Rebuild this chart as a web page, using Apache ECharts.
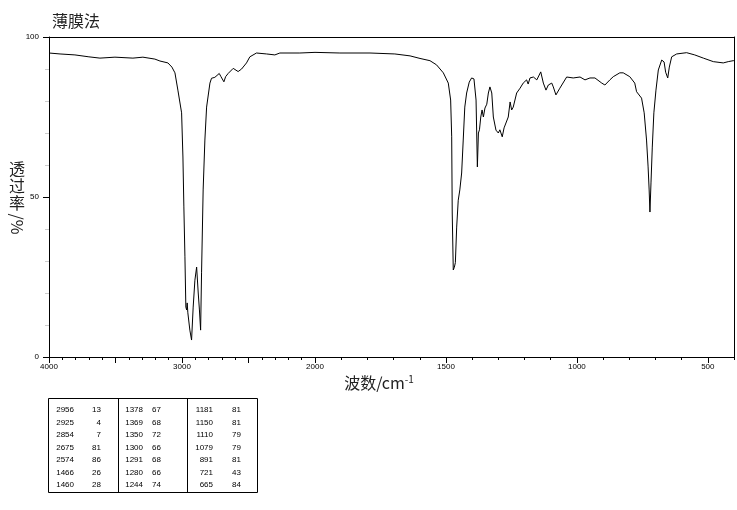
<!DOCTYPE html>
<html><head><meta charset="utf-8">
<script src="https://cdn.jsdelivr.net/npm/echarts@6/dist/echarts.min.js"></script>
<style>html,body{margin:0;padding:0;background:#fff}#c{width:737px;height:510px}</style>
</head><body><div id="c"></div>
<script>
const titleText = '薄膜法';
const yNameMain = '透\n过\n率';
const yNameUnit = '/%';
const xNameMain = '波数/cm';
const xNameSup = '-1';

// spectrum (wavenumber cm-1, transmittance %)
const wavenumber = [4000,3917,3805,3700,3617,3504,3369,3294,3204,3166,3106,3076,3053,3031,3003,2993,2986,2978,2971,2965,2961,2956,2941,2928,2925,2916,2903,2890,2878,2869,2860,2856,2853,2841,2828,2815,2790,2778,2753,2720,2707,2698,2685,2672,2653,2615,2578,2552,2515,2490,2440,2364,2302,2264,2114,2000,1905,1790,1695,1637,1599,1561,1536,1510,1491,1482,1478,1476,1472,1468,1464,1459,1453,1447,1440,1434,1428,1421,1411,1402,1393,1385,1380,1376,1372,1367,1362,1357,1351,1344,1338,1332,1325,1319,1309,1300,1294,1285,1278,1271,1262,1255,1249,1243,1230,1217,1205,1192,1186,1179,1166,1153,1138,1128,1118,1109,1096,1090,1080,1065,1039,1014,988,969,950,931,905,893,874,861,836,823,798,779,772,753,743,734,728,724,721,717,712,706,698,689,676,667,661,653,647,638,619,581,550,517,479,441,422,403,400];
const transmittance = [95.0,94.7,94.4,93.8,93.4,93.7,93.4,93.7,93.1,92.5,91.9,90.6,88.8,83.4,76.3,62.5,46.9,31.3,15.6,14.7,16.9,13.8,8.4,5.3,5.0,15.6,24.0,28.1,20.0,14.7,8.4,7.8,26.3,52.2,67.8,78.1,85.6,87.1,87.4,88.6,87.6,88.1,86.0,87.6,88.6,90.2,89.2,90.0,91.9,93.8,95.0,94.7,94.4,95.0,95.0,95.2,95.0,95.0,94.7,94.1,93.3,92.6,91.3,88.8,85.6,80.3,68.8,45.0,27.2,28.0,29.5,40.6,49.0,52.2,57.5,67.8,78.1,82.5,85.9,87.2,86.9,80.3,59.4,70.0,71.0,75.0,77.2,75.0,77.8,79.0,82.5,84.4,82.5,75.0,70.9,70.0,71.0,68.8,71.6,72.2,75.0,79.7,77.2,78.1,82.5,84.0,85.6,86.6,85.3,87.2,87.5,86.6,89.1,85.6,83.4,85.0,85.6,84.4,81.9,84.0,87.5,87.2,87.5,86.6,87.2,87.2,85.6,85.0,86.6,87.6,88.8,88.8,87.6,85.6,82.9,80.9,76.3,67.8,59.4,52.2,45.3,54.4,65.6,76.3,83.4,89.7,92.8,92.2,89.0,87.2,90.6,93.8,94.7,95.1,94.4,93.4,92.3,91.9,92.3,92.6,92.6];

// axis tick labels
const xLabelsHigh = [4000, 3000];
const xLabelsLow = [2000, 1500, 1000, 500];
const xMajorHigh = [2000, 2500, 3000, 3500, 4000];
const xMajorLow = [500, 1000, 1500, 2000];
const yLabels = [0, 50, 100];

// peak table
const peakWavenumber = [2956,2925,2854,2675,2574,1466,1460,1378,1369,1350,1300,1291,1280,1244,1181,1150,1110,1079,891,721,665];
const peakTransmittance = [13,4,7,81,86,26,28,67,68,72,66,68,66,74,81,81,79,79,81,43,84];

const hi = [], lo = [];
wavenumber.forEach((w, i) => {
  if (w >= 2000) hi.push([w, transmittance[i]]);
  if (w <= 2000) lo.push([w, transmittance[i]]);
});

const plain = v => String(v);
const labelFont = { fontFamily: 'Liberation Sans', fontSize: 8, color: '#000', formatter: plain };
const lineStyle = { color: '#000', width: 1 };

const G0 = { left: 49, top: 37, width: 266, height: 320 };
const G1 = { left: 315, top: 37, width: 419, height: 320 };

// table graphics
const tbl = { x: 48, y: 398, w: 209, h: 94, div: [118, 187], rowY0: 410, rowDy: 12.5,
  wnRight: [74, 143, 213], tRight: [101, 161, 241] };
const graphics = [];
graphics.push({ type: 'text', x: 52, y: 21, style: { text: titleText, font: '16px "Noto Sans CJK SC"', fill: '#222', textAlign: 'left', textVerticalAlign: 'middle' } });
graphics.push({ type: 'text', x: 17, y: 186, style: { text: yNameMain, font: '16px "Noto Sans CJK SC"', lineHeight: 17, fill: '#222', textAlign: 'center', textVerticalAlign: 'middle' } });
graphics.push({ type: 'text', x: 17, y: 224, rotation: -Math.PI / 2, style: { text: yNameUnit, font: '16px "Noto Sans CJK SC"', fill: '#222', textAlign: 'center', textVerticalAlign: 'middle' } });
graphics.push({ type: 'text', x: 379, y: 383, style: { text: '{a|' + xNameMain + '}{b|' + xNameSup + '}', textAlign: 'center', textVerticalAlign: 'middle',
  rich: { a: { font: '16px "Noto Sans CJK SC"', fill: '#222', lineHeight: 18 }, b: { font: '10px "Noto Sans CJK SC"', fill: '#222', verticalAlign: 'top', lineHeight: 18 } } } });
graphics.push({ type: 'rect', shape: { x: tbl.x + 0.5, y: tbl.y + 0.5, width: tbl.w, height: tbl.h }, style: { fill: 'none', stroke: '#000', lineWidth: 1 } });
tbl.div.forEach(dx => graphics.push({ type: 'line', shape: { x1: dx + 0.5, y1: tbl.y, x2: dx + 0.5, y2: tbl.y + tbl.h }, style: { stroke: '#000', lineWidth: 1 } }));
peakWavenumber.forEach((w, i) => {
  const c = Math.floor(i / 7), r = i % 7;
  const y = tbl.rowY0 + r * tbl.rowDy;
  graphics.push({ type: 'text', x: tbl.wnRight[c], y: y, style: { text: String(w), font: '8px "Liberation Sans"', fill: '#000', textAlign: 'right', textVerticalAlign: 'middle' } });
  graphics.push({ type: 'text', x: tbl.tRight[c], y: y, style: { text: String(peakTransmittance[i]), font: '8px "Liberation Sans"', fill: '#000', textAlign: 'right', textVerticalAlign: 'middle' } });
});

const chart = echarts.init(document.getElementById('c'), null, { renderer: 'canvas' });
chart.setOption({
  animation: false,
  backgroundColor: '#fff',
  grid: [G0, G1],
  xAxis: [
    { gridIndex: 0, type: 'value', position: 'bottom', min: 2000, max: 4000, interval: 100, inverse: true,
      axisLine: { show: true, lineStyle }, axisTick: { show: true, length: 3, lineStyle },
      axisLabel: Object.assign({ margin: 6, showMinLabel: true, showMaxLabel: true, customValues: xLabelsHigh }, labelFont),
      splitLine: { show: false } },
    { gridIndex: 1, type: 'value', position: 'bottom', min: 400, max: 2000, interval: 100, inverse: true,
      axisLine: { show: true, lineStyle }, axisTick: { show: true, length: 3, lineStyle },
      axisLabel: Object.assign({ margin: 6, showMinLabel: true, showMaxLabel: true, customValues: xLabelsLow }, labelFont),
      splitLine: { show: false } },
    { gridIndex: 0, type: 'value', position: 'top', min: 2000, max: 4000, inverse: true,
      axisLine: { show: true, lineStyle }, axisTick: { show: false }, axisLabel: { show: false }, splitLine: { show: false } },
    { gridIndex: 1, type: 'value', position: 'top', min: 400, max: 2000, inverse: true,
      axisLine: { show: true, lineStyle }, axisTick: { show: false }, axisLabel: { show: false }, splitLine: { show: false } },
    { gridIndex: 0, type: 'value', position: 'bottom', min: 2000, max: 4000, interval: 500, inverse: true,
      axisLine: { show: false }, axisTick: { show: true, length: 6, lineStyle, customValues: xMajorHigh }, axisLabel: { show: false }, splitLine: { show: false } },
    { gridIndex: 1, type: 'value', position: 'bottom', min: 400, max: 2000, interval: 100, inverse: true,
      axisLine: { show: false }, axisTick: { show: true, length: 6, lineStyle, customValues: xMajorLow }, axisLabel: { show: false }, splitLine: { show: false } }
  ],
  yAxis: [
    { gridIndex: 0, type: 'value', position: 'left', min: 0, max: 100, interval: 50,
      axisLine: { show: true, lineStyle }, axisTick: { show: true, length: 6, lineStyle },
      minorTick: { show: true, splitNumber: 5, length: 4, lineStyle: { color: '#ccc', width: 1 } },
      axisLabel: Object.assign({ margin: 10, customValues: yLabels }, labelFont),
      splitLine: { show: false }, minorSplitLine: { show: false } },
    { gridIndex: 1, type: 'value', position: 'right', min: 0, max: 100, interval: 50,
      axisLine: { show: true, lineStyle }, axisTick: { show: false }, axisLabel: { show: false }, splitLine: { show: false } }
  ],
  series: [
    { type: 'line', xAxisIndex: 0, yAxisIndex: 0, data: hi, showSymbol: false, symbol: 'none', lineStyle: { color: '#000', width: 1 }, silent: true },
    { type: 'line', xAxisIndex: 1, yAxisIndex: 1, data: lo, showSymbol: false, symbol: 'none', lineStyle: { color: '#000', width: 1 }, silent: true }
  ],
  graphic: graphics
});
</script></body></html>
